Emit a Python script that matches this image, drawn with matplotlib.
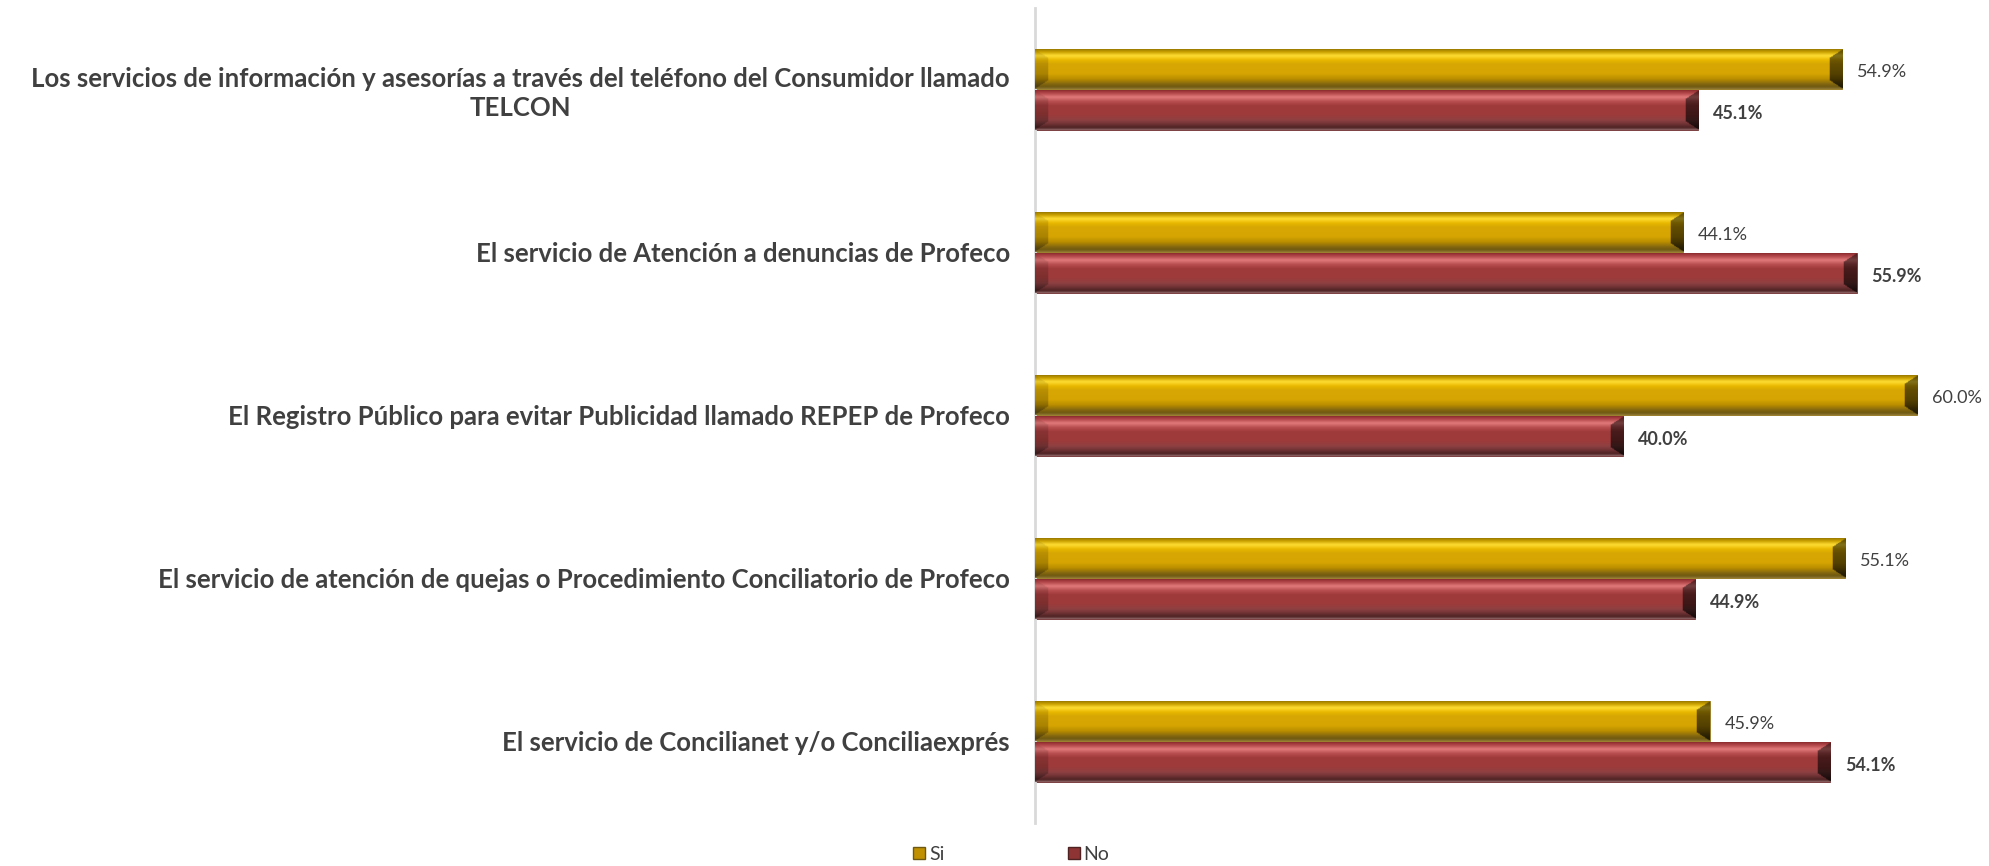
import numpy as np
import matplotlib
matplotlib.use('Agg')
import matplotlib.pyplot as plt
from matplotlib.colors import to_rgb
from matplotlib.lines import Line2D

categories = [
    'Los servicios de información y asesorías a través del teléfono del Consumidor llamado\nTELCON',
    'El servicio de Atención a denuncias de Profeco',
    'El Registro Público para evitar Publicidad llamado REPEP de Profeco',
    'El servicio de atención de quejas o Procedimiento Conciliatorio de Profeco',
    'El servicio de Concilianet y/o Conciliaexprés',
]
si_values = [54.9, 44.1, 60.0, 55.1, 45.9]
no_values = [45.1, 55.9, 40.0, 44.9, 54.1]
series_names = ['Si', 'No']

# vertical shading profiles (top -> bottom) for the bevelled bars
si_stops = [(0.0, '#9C7C00'), (0.06, '#C9A000'), (0.16, '#FFDD33'), (0.27, '#E8B800'),
            (0.37, '#D8A704'), (0.62, '#D6A502'), (0.76, '#B88C00'), (0.86, '#8C6C0E'),
            (0.95, '#6E5810'), (1.0, '#8A7430')]
no_stops = [(0.0, '#8E2E30'), (0.06, '#B04447'), (0.17, '#E07878'), (0.28, '#B84E50'),
            (0.38, '#A03B3C'), (0.62, '#9E3A3A'), (0.76, '#8E4042'), (0.86, '#6E3234'),
            (0.95, '#4E2222'), (1.0, '#8A6060')]

txt_color = '#404040'
plt.rcParams['font.family'] = ['Lato', 'DejaVu Sans']


def profile(stops, n):
    t = np.linspace(0, 1, n)
    ts = [s[0] for s in stops]
    cols = np.array([to_rgb(s[1]) for s in stops])
    return np.stack([np.interp(t, ts, cols[:, k]) for k in range(3)], axis=1)


def shade_bar(ax, patch, stops, bevel=0.9, cols_per_unit=20, rows=48):
    x0, y0 = patch.get_x(), patch.get_y()
    w, h = patch.get_width(), patch.get_height()
    nx = max(int(w * cols_per_unit), 4)
    prof = profile(stops, rows)
    img = np.repeat(prof[:, None, :], nx, axis=1)
    t = np.linspace(0, 1, rows)[:, None]
    xs = np.linspace(0, w, nx)[None, :]
    # trapezoid end faces (chamfer)
    depth = bevel * np.clip(np.minimum(t, 1 - t) / 0.22, 0, 1)
    left = np.broadcast_to(xs < depth, img.shape[:2])
    right = np.broadcast_to((w - xs) < depth, img.shape[:2])
    shade_l = np.repeat((0.95 - 0.25 * t), nx, axis=1)
    shade_r = np.repeat((0.55 - 0.25 * t), nx, axis=1)
    img[left] = img[left] * shade_l[left][:, None]
    img[right] = img[right] * shade_r[right][:, None]
    im = ax.imshow(img, extent=(x0, x0 + w, y0 + h, y0), origin='upper',
                   aspect='auto', interpolation='bilinear', zorder=3)
    im.set_clip_path(patch)


fig = plt.figure(figsize=(19.9, 8.66), dpi=100)
ax = fig.add_axes([0.520, 0.0497, 0.480, 0.9411])

y = np.arange(len(categories))
h = 0.245
bars_si = ax.barh(y - 0.128, si_values, height=h, color='#D8A704',
                  edgecolor='#8C7020', linewidth=0.6, zorder=2)
bars_no = ax.barh(y + 0.128, no_values, height=h, color='#9E3A3A',
                  edgecolor='#6E3234', linewidth=0.6, zorder=2)

ax.set_xlim(0, 64.97)
ax.set_ylim(len(categories) - 0.5, -0.5)

for p in bars_si:
    shade_bar(ax, p, si_stops)
for p in bars_no:
    shade_bar(ax, p, no_stops)

for p, v in zip(bars_si, si_values):
    ax.text(p.get_x() + p.get_width() + 1.0, p.get_y() + p.get_height() / 2 + 0.02,
            f'{v:.1f}%', va='center', ha='left', fontsize=13, color=txt_color)
for p, v in zip(bars_no, no_values):
    ax.text(p.get_x() + p.get_width() + 1.0, p.get_y() + p.get_height() / 2 + 0.02,
            f'{v:.1f}%', va='center', ha='left', fontsize=13, color=txt_color,
            fontweight='bold')

ax.set_yticks(y)
ax.set_yticklabels(categories, fontsize=18.5, fontweight='bold', color=txt_color,
                   multialignment='center', linespacing=1.25)
ax.tick_params(axis='y', length=0, pad=18)
ax.set_xticks([])
for s in ['top', 'right', 'bottom']:
    ax.spines[s].set_visible(False)
ax.spines['left'].set_color('#D9D9D9')
ax.spines['left'].set_linewidth(2)
ax.set_facecolor('none')

handles = [
    Line2D([], [], marker='s', linestyle='none', markersize=9,
           markerfacecolor='#C09000', markeredgecolor='#6E5810'),
    Line2D([], [], marker='s', linestyle='none', markersize=9,
           markerfacecolor='#8E3434', markeredgecolor='#4E2222'),
]
fig.legend(handles, series_names, loc='center', bbox_to_anchor=(0.508, 0.013),
           ncol=2, frameon=False, fontsize=14, handlelength=0.7,
           handletextpad=0.15, columnspacing=6.3, labelcolor=txt_color)

fig.savefig('out.png', dpi=100)
